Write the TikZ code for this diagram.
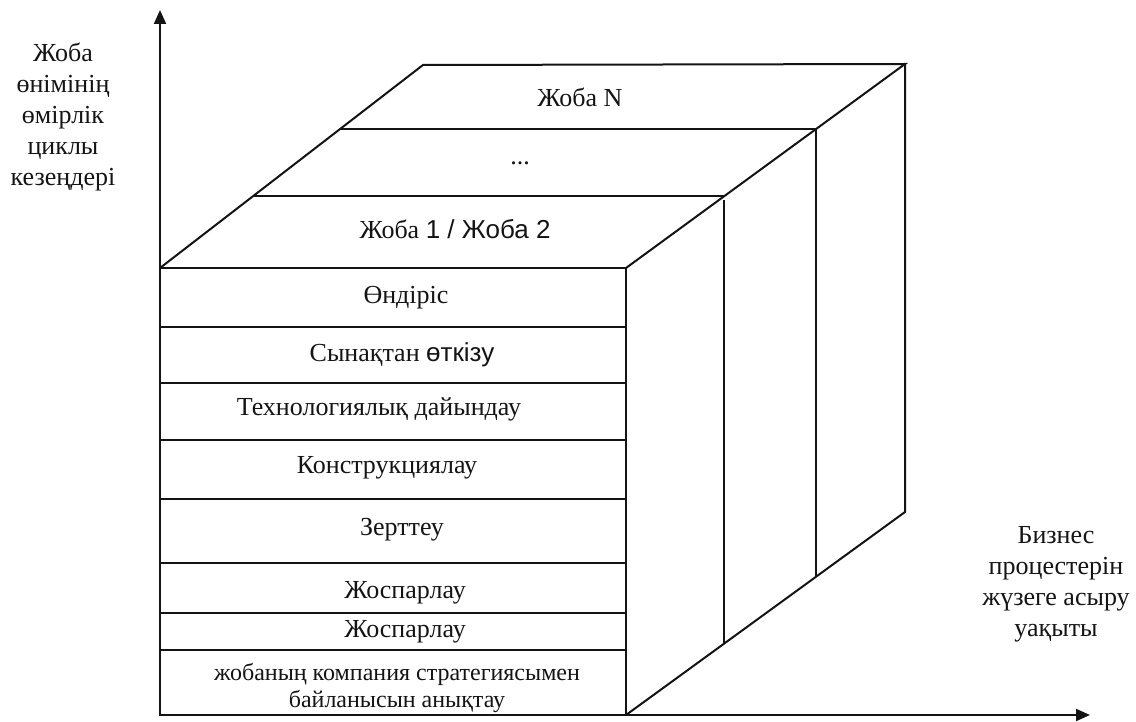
\documentclass[tikz,border=0pt]{standalone}
\usepackage{fontspec}
\setmainfont{Liberation Serif}
\newfontfamily\arialfont{Liberation Sans}
\usetikzlibrary{arrows.meta, positioning}
\definecolor{inkblack}{RGB}{20, 20, 20}
\tikzset{
    edge line/.style={
        line width=2pt,
        draw=inkblack,
        line join=miter
    },
    axis arrow/.style={
        line width=2pt,
        draw=inkblack,
        -{Triangle[length=14pt, width=12pt]}
    },
    stage/.style={
        font=\fontsize{26}{27}\selectfont,
        text=inkblack,
        inner sep=0pt,
        align=center
    },
    axis label/.style={
        font=\fontsize{26}{31}\selectfont,
        text=inkblack,
        inner sep=0pt,
        align=center
    }
}

\begin{document}
\begin{tikzpicture}[x=1pt, y=-1pt]

\useasboundingbox (0, 0) rectangle (1136, 722);

% === CORNERS ===
\coordinate (origin) at (160, 715);
\coordinate (ytip) at (160, 10);
\coordinate (xtip) at (1090, 715);

\coordinate (fbl) at (160, 715);
\coordinate (ftl) at (160, 268);
\coordinate (ftr) at (626, 268);
\coordinate (fbr) at (626, 715);
\coordinate (btl) at (423, 65);
\coordinate (btr) at (905, 64);
\coordinate (bbr) at (905, 512);

% layers on the top face
\coordinate (l1l) at (253, 196);
\coordinate (l1r) at (724, 196);
\coordinate (l2l) at (340, 129);
\coordinate (l2r) at (816, 129);
\coordinate (l1b) at (724, 643);
\coordinate (l2b) at (816, 576);

% === AXES ===
\draw[axis arrow] (origin) -- (ytip);
\draw[axis arrow] (origin) -- (xtip);

% === CUBE ===
\draw[edge line] (ftl) -- (ftr) -- (fbr) -- (fbl) -- cycle;
\draw[edge line] (ftl) -- (btl) -- (btr) -- (ftr);
\draw[edge line] (btr) -- (bbr) -- (fbr);

% project layers
\draw[edge line] (l1l) -- (l1r);
\draw[edge line] (l2l) -- (l2r);
\draw[edge line] ([yshift=-4pt]l1r) -- (l1b);
\draw[edge line] (l2r) -- (l2b);

% stage rows
\foreach \y in {327, 383, 440, 499, 563, 613, 650}
    \draw[edge line] (160, \y) -- (626, \y);

% === TEXTS ===
\node[stage] (projN) at (580, 97) {Жоба N};
\node[stage] (projdots) at (520, 163) {...};
\node[stage] (proj12) at (455, 229) {Жоба {\arialfont 1 / Жоба 2}};

\node[stage] (production) at (406, 298) {Өндіріс};
\node[stage] (testing) at (402, 355) {Сынақтан {\arialfont өткізу}};
\node[stage] (techprep) at (379, 409) {Технологиялық дайындау};
\node[stage] (design) at (387, 468) {Конструкциялау};
\node[stage] (research) at (402, 530) {Зерттеу};
\node[stage] (planA) at (405, 593) {Жоспарлау};
\node[stage] (planB) at (405, 632) {Жоспарлау};
\node[stage, font=\fontsize{24}{27}\selectfont] (strategy) at (397, 688)
    {жобаның компания стратегиясымен\\байланысын анықтау};

\node[axis label] (ylabel) at (63, 117) {Жоба\\өнімінің\\өмірлік\\циклы\\кезеңдері};
\node[axis label] (xlabel) at (1056, 584) {Бизнес\\процестерін\\жүзеге асыру\\уақыты};

\end{tikzpicture}
\end{document}
